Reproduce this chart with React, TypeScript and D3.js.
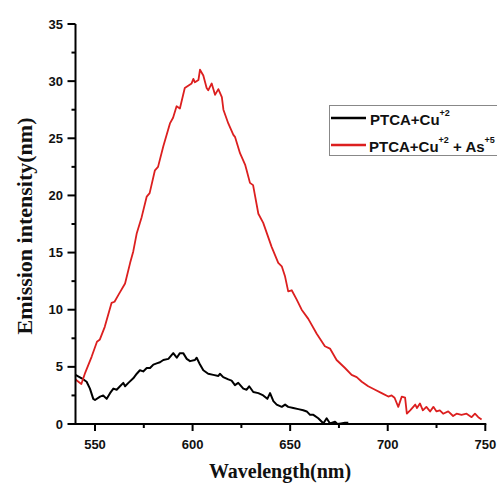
import React from "react";
import * as d3 from "d3";

const redWl = [540, 541.5, 543, 545, 548.3, 551, 552.5, 555, 558.5, 560, 562, 565.4, 568, 569.6, 571.4, 573.9, 576.5, 578, 580.7, 582.3, 585, 588.4, 590, 591.8, 593.5, 596, 599.5, 600.4, 601.2, 603, 603.8, 605.5, 607.2, 608, 609.8, 611.5, 613.2, 615, 615.8, 618.3, 620.9, 621.8, 624.3, 626.9, 627.7, 629.4, 631, 633.7, 636.2, 640.5, 643.9, 645.7, 647.4, 649, 650.8, 653.3, 655.9, 659.3, 663.6, 667.8, 670.4, 673.8, 678.1, 681.5, 684.1, 686.7, 690, 693.5, 696.9, 700.3, 702, 703.5, 705.4, 707.2, 708.9, 709.8, 711.5, 714.1, 715, 716.5, 718, 719.8, 721.7, 723.4, 725, 726.7, 728.4, 731, 733.5, 735.3, 737.8, 740.4, 743, 744.7, 746.4, 748.1];
const redVal = [3.9, 3.7, 3.5, 4.5, 5.9, 7.2, 7.4, 8.5, 10.6, 10.7, 11.3, 12.3, 14.1, 15.1, 16.7, 18.1, 19.9, 20.2, 22.2, 22.5, 24.3, 26.3, 26.8, 27.8, 27.6, 29.4, 29.8, 30.2, 29.9, 30.1, 31.0, 30.5, 29.4, 29.2, 29.8, 28.8, 29.3, 28.6, 27.5, 26.3, 25.3, 25.1, 23.7, 22.7, 22.2, 21.1, 20.9, 18.4, 17.6, 15.5, 14.1, 13.8, 12.9, 11.6, 11.7, 10.9, 10.0, 9.2, 7.9, 6.8, 6.6, 5.6, 4.9, 4.3, 4.1, 3.7, 3.3, 3.0, 2.7, 2.4, 2.5, 2.3, 1.5, 2.4, 2.3, 0.9, 1.2, 1.7, 1.4, 1.8, 1.2, 1.5, 1.1, 1.5, 1.1, 1.2, 0.9, 1.1, 0.7, 0.9, 0.8, 0.9, 0.6, 0.9, 0.6, 0.4];

const blackWl = [540, 543.2, 545.7, 547.4, 549.1, 550, 552.6, 554.2, 556, 557.7, 559.4, 561.1, 562.8, 564.5, 565.4, 567.1, 569.6, 571.4, 573, 574.7, 576.5, 578.2, 579.9, 581.6, 583.3, 585, 587.6, 590.1, 591.9, 593.5, 595.2, 597, 598.7, 601.2, 602.1, 603.8, 605.5, 608, 610.6, 613.2, 614, 615.7, 618.3, 620, 621.7, 623.4, 626, 627.7, 629, 631.1, 633.7, 636.2, 638.3, 639.7, 641.4, 643.1, 645.7, 647.4, 649, 651.6, 654.2, 656.7, 658.5, 660.2, 661.9, 664.4, 666.2, 667, 668.7, 670.4, 673, 674.2, 676, 678.1, 679.8];
const blackVal = [4.3, 4.0, 3.7, 3.1, 2.2, 2.1, 2.4, 2.5, 2.2, 2.7, 3.1, 3.0, 3.3, 3.6, 3.3, 3.6, 4.0, 4.4, 4.7, 4.6, 4.9, 4.9, 5.2, 5.3, 5.4, 5.6, 5.7, 6.2, 5.8, 6.2, 6.2, 5.7, 5.5, 5.6, 5.8, 5.2, 4.7, 4.4, 4.3, 4.2, 4.4, 4.1, 3.9, 3.8, 3.4, 3.6, 3.1, 3.0, 3.3, 2.8, 2.7, 2.5, 2.2, 2.7, 2.0, 1.7, 1.5, 1.7, 1.5, 1.4, 1.3, 1.2, 1.1, 0.8, 0.8, 0.5, 0.2, 0.05, 0.5, 0.05, 0.2, 0, 0.05, 0.1, 0.1];

const xTicks = [550, 600, 650, 700, 750];
const xMinor = [575, 625, 675, 725];
const yTicks = [0, 5, 10, 15, 20, 25, 30, 35];
const yMinor = [2.5, 7.5, 12.5, 17.5, 22.5, 27.5, 32.5];

const seriesNames = ["PTCA+Cu", "PTCA+Cu"];

export default function App() {
  const W = 497, H = 489;
  const x = d3.scaleLinear().domain([540, 750]).range([75.5, 485.3]);
  const y = d3.scaleLinear().domain([0, 35]).range([424, 24]);
  const line = d3.line<[number, number]>().x(d => x(d[0])).y(d => y(d[1]));
  const red = line(redWl.map((w, i) => [w, redVal[i]] as [number, number])) || "";
  const black = line(blackWl.map((w, i) => [w, blackVal[i]] as [number, number])) || "";
  const sans = "'Liberation Sans', Arial, sans-serif";
  const serif = "'Liberation Serif', 'Times New Roman', serif";
  const redColor = "#dc1f1f";
  return (
    <svg width={W} height={H} style={{ position: "absolute", left: 0, top: 0, background: "#fff" }}>
      <rect width={W} height={H} fill="#fff" />
      <path d={black} fill="none" stroke="#000" strokeWidth={2} strokeLinejoin="round" />
      <path d={red} fill="none" stroke={redColor} strokeWidth={1.8} strokeLinejoin="round" />
      {/* axes */}
      <line x1={x(540)} x2={x(540)} y1={y(35)} y2={y(0) + 1} stroke="#000" strokeWidth={2} />
      <line x1={x(540) - 1} x2={x(750) + 1} y1={y(0)} y2={y(0)} stroke="#000" strokeWidth={2} />
      {yTicks.map(t => (
        <g key={"y" + t}>
          <line x1={x(540) - 8} x2={x(540)} y1={y(t)} y2={y(t)} stroke="#000" strokeWidth={2} />
          <text x={63} y={y(t)} dy="0.35em" textAnchor="end" fontFamily={sans} fontWeight="bold" fontSize={13} fill="#111">{t}</text>
        </g>
      ))}
      {yMinor.map(t => (
        <line key={"ym" + t} x1={x(540) - 4} x2={x(540)} y1={y(t)} y2={y(t)} stroke="#000" strokeWidth={2} />
      ))}
      {xTicks.map(t => (
        <g key={"x" + t}>
          <line x1={x(t)} x2={x(t)} y1={y(0)} y2={y(0) + 7} stroke="#000" strokeWidth={2} />
          <text x={x(t)} y={449} textAnchor="middle" fontFamily={sans} fontWeight="bold" fontSize={13} fill="#111">{t}</text>
        </g>
      ))}
      {xMinor.map(t => (
        <line key={"xm" + t} x1={x(t)} x2={x(t)} y1={y(0)} y2={y(0) + 4} stroke="#000" strokeWidth={2} />
      ))}
      <text x={280} y={478} textAnchor="middle" fontFamily={serif} fontWeight="bold" fontSize={20} fill="#111">Wavelength(nm)</text>
      <text transform="translate(32,226) rotate(-90)" textAnchor="middle" fontFamily={serif} fontWeight="bold" fontSize={22} fill="#111">Emission intensity(nm)</text>
      {/* legend */}
      <rect x={329.5} y={105.5} width={180} height={50} fill="#fff" stroke="#888" strokeWidth={1} />
      <line x1={331} x2={366} y1={118} y2={118} stroke="#000" strokeWidth={2.5} />
      <line x1={331} x2={366} y1={145} y2={145} stroke={redColor} strokeWidth={2.5} />
      <text x={370} y={125} fontFamily={sans} fontWeight="bold" fontSize={15} fill="#111">
        {seriesNames[0]}<tspan fontSize={9} dy={-9}>+2</tspan>
      </text>
      <text x={369} y={152} fontFamily={sans} fontWeight="bold" fontSize={15} fill="#111">
        {seriesNames[1]}<tspan fontSize={9} dy={-9}>+2</tspan><tspan dy={9}> + As</tspan><tspan fontSize={9} dy={-9}>+5</tspan>
      </text>
    </svg>
  );
}
